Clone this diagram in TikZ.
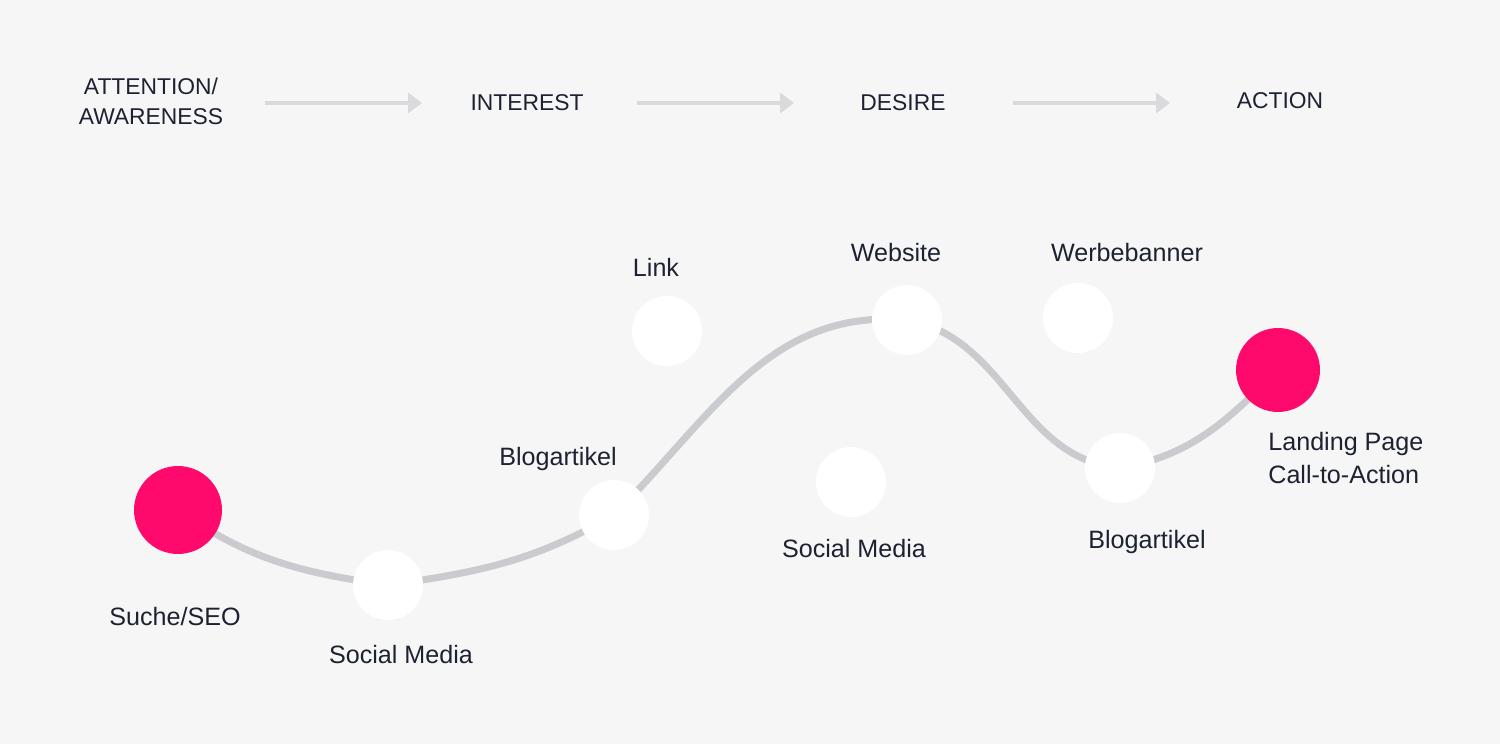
\documentclass[tikz,border=0pt]{standalone}
\usepackage{fontspec}
\setmainfont{Liberation Sans}
\usetikzlibrary{arrows.meta}

\definecolor{bgGray}{HTML}{F6F6F6}
\definecolor{hotPink}{HTML}{FD0A6C}
\definecolor{inkBlue}{HTML}{1D2232}
\definecolor{pathGray}{HTML}{CACBCF}
\definecolor{arrowGray}{HTML}{DADADC}

\pgfdeclarelayer{bg}
\pgfsetlayers{bg,main}

\begin{document}
\begin{tikzpicture}[x=0.02cm, y=0.02cm,
	dot node/.style={circle,fill=white,minimum size=1.4cm,inner sep=0pt},
	hot node/.style={circle,fill=hotPink,minimum size=1.76cm,inner sep=0pt},
	text node/.style={text=inkBlue,font=\fontsize{14.3pt}{17pt}\selectfont,inner sep=0pt},
	stage node/.style={text=inkBlue,font=\fontsize{13pt}{17pt}\selectfont,inner sep=0pt},
	stage arrow/.style={draw=arrowGray,line width=0.08cm,-{Triangle[length=0.28cm,width=0.4cm]}},
	curve line/.style={draw=pathGray,line width=0.14cm}]
	
	\begin{pgfonlayer}{bg}
	\fill[bgGray] (0,0) rectangle (1500,744);
	\end{pgfonlayer}
	
	% funnel stages
	\node[stage node,align=center] (attention) at (151,643) {ATTENTION/\\AWARENESS};
	\node[stage node,anchor=base] (interest) at (527,633) {INTEREST};
	\node[stage node,anchor=base] (desire) at (903,633) {DESIRE};
	\node[stage node,anchor=base] (action) at (1280,635) {ACTION};
	\coordinate (a1) at (265,641); \coordinate (b1) at (422,641);
	\coordinate (a2) at (637,641); \coordinate (b2) at (794,641);
	\coordinate (a3) at (1013,641); \coordinate (b3) at (1170,641);
	\draw[stage arrow] (a1) -- (b1);
	\draw[stage arrow] (a2) -- (b2);
	\draw[stage arrow] (a3) -- (b3);
	
	% touchpoints
	\node[hot node] (seo) at (178,234) {};
	\node[dot node] (sm1) at (388,159) {};
	\node[dot node] (blog1) at (614,229) {};
	\node[dot node] (link) at (667,413) {};
	\node[dot node] (web) at (907,424) {};
	\node[dot node] (sm2) at (851,262) {};
	\node[dot node] (werbe) at (1078,426) {};
	\node[dot node] (blog2) at (1120,276) {};
	\node[hot node,minimum size=1.68cm] (land) at (1278,374) {};
	
	\node[text node,anchor=base] (seo label) at (175,119) {Suche/SEO};
	\node[text node,anchor=base] (sm1 label) at (401,81) {Social Media};
	\node[text node,anchor=base] (blog1 label) at (558,278) {Blogartikel};
	\node[text node,anchor=base] (link label) at (656,467) {Link};
	\node[text node,anchor=base] (web label) at (896,482) {Website};
	\node[text node,anchor=base] (sm2 label) at (854,187) {Social Media};
	\node[text node,anchor=base] (werbe label) at (1127,482) {Werbebanner};
	\node[text node,anchor=base] (blog2 label) at (1147,196) {Blogartikel};
	\node[text node,align=left,anchor=north west,font=\fontsize{14.3pt}{18.7pt}\selectfont] (land label) at (1268,312) {Landing Page\\Call-to-Action};
	
	\begin{pgfonlayer}{bg}
	\draw[curve line] (seo.center) to[out=-35,in=172] (sm1.center)
		to[out=8,in=210] (blog1.center)
		to[out=45,in=175] (web.center)
		to[out=-10,in=175] (blog2.center)
		to[out=10,in=225] (land.center);
	\end{pgfonlayer}
\end{tikzpicture}
\end{document}
